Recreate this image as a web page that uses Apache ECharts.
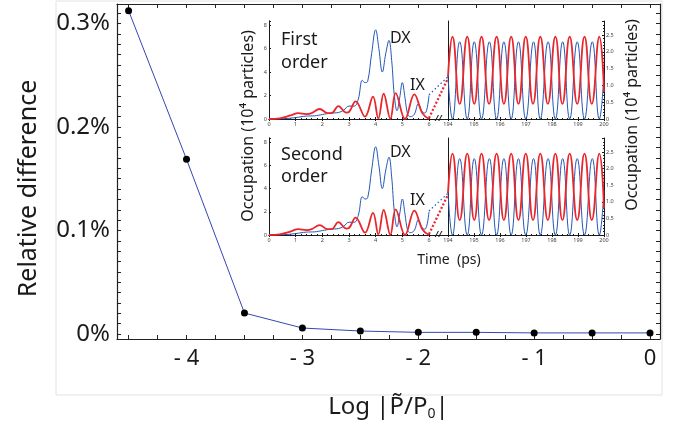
<!DOCTYPE html>
<html><head><meta charset="utf-8">
<script src="https://cdn.jsdelivr.net/npm/echarts@6/dist/echarts.min.js"></script>
<style>html,body{margin:0;padding:0;background:#fff}#c{width:688px;height:423px}</style>
</head><body><div id="c"></div>
<script>
// ---- main chart data ----
const logP = [-4.5, -4, -3.5, -3, -2.5, -2, -1.5, -1, -0.5, 0];
const relDiff = [0.3124, 0.1688, 0.0203, 0.0058, 0.0029, 0.0016, 0.0016, 0.0011, 0.0011, 0.0011]; // in %
const xTickLabels = [-4, -3, -2, -1, 0];
const yTickLabels = [0, 0.1, 0.2, 0.3];
// ---- inset: early time (0-6 ps), 10^4 particles ----
const dxEarly = [[0,0],[0.5,0.02],[1.0,0.12],[1.4,0.25],[1.7,0.27],[2.0,0.38],[2.3,0.5],[2.6,0.55],[2.8,0.75],[3.0,1.1],[3.2,1.1],[3.35,1.7],[3.5,3.3],[3.6,3.1],[3.7,3.2],[3.85,5.6],[4.0,7.6],[4.12,6.0],[4.25,4.0],[4.38,5.6],[4.5,6.7],[4.6,5.0],[4.7,2.0],[4.8,0.7],[4.9,1.8],[5.0,3.1],[5.1,1.8],[5.2,0.4],[5.3,0.2],[5.45,0.4],[5.6,1.3],[5.75,0.6],[5.85,0.5],[6.0,2.0]];
const ixEarly = [[0,0],[0.4,0.05],[0.8,0.3],[1.1,0.5],[1.4,0.42],[1.6,0.5],[1.9,0.85],[2.2,0.5],[2.35,0.5],[2.6,1.1],[2.9,0.55],[3.0,0.6],[3.25,1.5],[3.6,0.2],[3.9,1.9],[4.1,0.05],[4.3,2.15],[4.55,0.02],[4.75,2.2],[5.1,0.0],[5.45,2.1],[5.75,0.5],[6.0,0.0]];
// ---- inset: late time (194-200 ps) ----
const ixLate = [[194.0,1.26],[194.17,2.45],[194.45,0.45],[194.74,2.45],[195.01,0.45],[195.29,2.45],[195.58,0.45],[195.87,2.45],[196.15,0.45],[196.43,2.45],[196.71,0.45],[196.99,2.45],[197.27,0.45],[197.55,2.45],[197.84,0.45],[198.13,2.45],[198.4,0.45],[198.68,2.45],[198.97,0.45],[199.25,2.45],[199.53,0.45],[199.82,2.45],[200.0,0.8]];
const dxLate = [[194.0,1.3],[194.17,0.0],[194.45,2.3],[194.74,0.0],[195.01,2.3],[195.29,0.0],[195.59,2.3],[195.87,0.0],[196.15,2.3],[196.43,0.0],[196.71,2.3],[196.99,0.0],[197.29,2.3],[197.55,0.0],[197.85,2.3],[198.13,0.0],[198.41,2.3],[198.68,0.0],[198.97,2.3],[199.25,0.0],[199.55,2.3],[199.82,0.0],[200.0,1.35]];
// dotted connectors across the axis break (left-panel units)
const dxGap = [[6, 2.06], [194, 3.6]];
const ixGap = [[6, 0.08], [194, 3.48]];

const FONT = '"Noto Sans", "DejaVu Sans", sans-serif';
const BLUE = '#2457b5', RED = '#e8262b', INK = '#1a1a1a';

function range(a, b, s) { const r = []; for (let i = 0; ; i++) { const v = +(a + i * s).toFixed(4); if (v > b + 1e-9) break; r.push(v); } return r; }

const grids = [
  { left: 117, right: 28, top: 4, bottom: 84 },              // 0 main
  { left: 269, width: 160, top: 21, height: 98 },             // 1 TL
  { left: 429, width: 19, top: 21, height: 98 },              // 2 gap top
  { left: 448, width: 156, top: 21, height: 98 },             // 3 TR
  { left: 269, width: 160, top: 138, height: 97 },            // 4 BL
  { left: 429, width: 19, top: 138, height: 97 },             // 5 gap bottom
  { left: 448, width: 156, top: 138, height: 97 }             // 6 BR
];

const line1 = { show: true, lineStyle: { color: INK, width: 1 } };
const xAxes = [], yAxes = [];
xAxes.push({ gridIndex: 0, type: 'value', min: -4.6, max: 0.086, position: 'bottom',
  axisLine: { show: true, onZero: false, lineStyle: { color: '#222', width: 1.2 } },
  axisTick: { show: true, inside: true, length: 4, customValues: range(-4.5, 0, 0.25), lineStyle: { color: '#222' } },
  axisLabel: { customValues: xTickLabels, fontFamily: FONT, fontSize: 22, color: INK, margin: 9,
    formatter: v => v < 0 ? '- ' + Math.abs(v) : String(v) },
  splitLine: { show: false },
  name: 'Log |P\u0303/P{s|0}|', nameLocation: 'middle', nameGap: 54,
  nameTextStyle: { fontFamily: FONT, fontSize: 24, color: INK, rich: { s: { fontFamily: FONT, fontSize: 14, color: INK, padding: [14, 0, 0, 0] } } } });
xAxes.push({ gridIndex: 0, type: 'value', min: -4.6, max: 0.086, position: 'top',
  axisLine: { show: true, onZero: false, lineStyle: { color: '#222', width: 1.2 } },
  axisTick: { show: true, inside: true, length: 4, customValues: range(-4.5, 0, 0.25), lineStyle: { color: '#222' } },
  axisLabel: { show: false }, splitLine: { show: false } });
yAxes.push({ gridIndex: 0, type: 'value', min: -0.0048, max: 0.3188, position: 'left',
  axisLine: { show: true, onZero: false, lineStyle: { color: '#222', width: 1.2 } },
  axisTick: { show: true, inside: true, length: 4, customValues: range(0, 0.31, 0.01), lineStyle: { color: '#222' } },
  axisLabel: { customValues: yTickLabels, fontFamily: FONT, fontSize: 24, color: INK, margin: 7,
    formatter: v => (v === 0 ? '0' : v.toFixed(1)) + '%' },
  splitLine: { show: false },
  name: 'Relative difference', nameLocation: 'middle', nameGap: 76,
  nameTextStyle: { fontFamily: FONT, fontSize: 25, color: INK, padding: [0, 34, 0, 0] } });
yAxes.push({ gridIndex: 0, type: 'value', min: -0.0048, max: 0.3188, position: 'right',
  axisLine: { show: true, onZero: false, lineStyle: { color: '#222', width: 1.2 } },
  axisTick: { show: true, inside: true, length: 4, customValues: range(0, 0.31, 0.01), lineStyle: { color: '#222' } },
  axisLabel: { show: false }, splitLine: { show: false } });

const tinyLab = { fontFamily: FONT, fontSize: 5.5, color: '#444', margin: 2 };
function panelAxes(gEarly, gGap, gLate) {
  xAxes.push({ gridIndex: gEarly, type: 'value', min: 0, max: 6, interval: 1, position: 'bottom',
    axisLine: line1, axisTick: { inside: true, length: 2, lineStyle: { color: INK } },
    minorTick: { show: true, splitNumber: 5, length: 1, lineStyle: { color: INK } },
    axisLabel: tinyLab, splitLine: { show: false } });
  xAxes.push({ gridIndex: gEarly, type: 'value', min: 0, max: 6, interval: 1, position: 'top',
    axisLine: line1, axisTick: { inside: true, length: 2, lineStyle: { color: INK } },
    minorTick: { show: true, splitNumber: 5, length: 1, lineStyle: { color: INK } },
    axisLabel: { show: false }, splitLine: { show: false } });
  yAxes.push({ gridIndex: gEarly, type: 'value', min: 0, max: 8.35, interval: 2, position: 'left',
    axisLine: line1, axisTick: { inside: true, length: 2, lineStyle: { color: INK } },
    minorTick: { show: true, splitNumber: 2, length: 1, lineStyle: { color: INK } },
    axisLabel: Object.assign({ showMaxLabel: false }, tinyLab), splitLine: { show: false } });
  yAxes.push({ gridIndex: gEarly, type: 'value', min: 0, max: 8.35, position: 'right',
    axisLine: line1, axisTick: { show: false }, axisLabel: { show: false }, splitLine: { show: false } });
  xAxes.push({ gridIndex: gGap, type: 'value', min: 6, max: 194, position: 'top',
    axisLine: line1, axisTick: { show: false }, axisLabel: { show: false }, splitLine: { show: false } });
  yAxes.push({ gridIndex: gGap, type: 'value', min: 0, max: 8.35, show: false });
  xAxes.push({ gridIndex: gLate, type: 'value', min: 194, max: 200, interval: 1, position: 'bottom',
    axisLine: line1, axisTick: { inside: true, length: 2, lineStyle: { color: INK } },
    minorTick: { show: true, splitNumber: 5, length: 1, lineStyle: { color: INK } },
    axisLabel: tinyLab, splitLine: { show: false } });
  xAxes.push({ gridIndex: gLate, type: 'value', min: 194, max: 200, interval: 1, position: 'top',
    axisLine: line1, axisTick: { inside: true, length: 2, lineStyle: { color: INK } },
    minorTick: { show: true, splitNumber: 5, length: 1, lineStyle: { color: INK } },
    axisLabel: { show: false }, splitLine: { show: false } });
  yAxes.push({ gridIndex: gLate, type: 'value', min: 0, max: 2.92, position: 'left',
    axisLine: line1, axisTick: { show: false }, axisLabel: { show: false }, splitLine: { show: false } });
  yAxes.push({ gridIndex: gLate, type: 'value', min: 0, max: 2.92, interval: 0.5, position: 'right',
    axisLine: line1, axisTick: { inside: true, length: 2, lineStyle: { color: INK } },
    minorTick: { show: true, splitNumber: 5, length: 1, lineStyle: { color: INK } },
    axisLabel: Object.assign({ showMaxLabel: false, formatter: v => v === 0 ? '0' : v.toFixed(1) }, tinyLab),
    splitLine: { show: false } });
}
panelAxes(1, 2, 3);
panelAxes(4, 5, 6);

const series = [{
  type: 'line', xAxisIndex: 0, yAxisIndex: 0, data: logP.map((x, i) => [x, relDiff[i]]),
  symbol: 'circle', symbolSize: 7, itemStyle: { color: '#000' },
  lineStyle: { color: '#3447b0', width: 1 }, z: 3
}];
function panelSeries(xe, ye, xg, yg, xl, yl) {
  series.push({ type: 'line', xAxisIndex: xe, yAxisIndex: ye, data: dxEarly, showSymbol: false, smooth: 0.4,
    lineStyle: { color: BLUE, width: 1 } });
  series.push({ type: 'line', xAxisIndex: xe, yAxisIndex: ye, data: ixEarly, showSymbol: false, smooth: 0.4,
    lineStyle: { color: RED, width: 1.8 } });
  series.push({ type: 'line', xAxisIndex: xg, yAxisIndex: yg, data: dxGap, showSymbol: false,
    lineStyle: { color: BLUE, width: 1.2, type: [1.5, 2.5] } });
  series.push({ type: 'line', xAxisIndex: xg, yAxisIndex: yg, data: ixGap, showSymbol: false,
    lineStyle: { color: RED, width: 2.2, type: [2, 2] } });
  series.push({ type: 'line', xAxisIndex: xl, yAxisIndex: yl, data: dxLate, showSymbol: false, smooth: 0.5,
    lineStyle: { color: BLUE, width: 1 } });
  series.push({ type: 'line', xAxisIndex: xl, yAxisIndex: yl, data: ixLate, showSymbol: false, smooth: 0.5,
    lineStyle: { color: RED, width: 1.8 } });
}
panelSeries(2, 2, 4, 4, 5, 6);
panelSeries(7, 7, 9, 9, 10, 11);

const txt = (x, y, s, size, extra) => ({ type: 'text', x, y, z: 50,
  style: Object.assign({ text: s, fontFamily: FONT, fontSize: size, fill: INK }, extra || {}) });

const option = {
  animation: false,
  backgroundColor: '#fff',
  grid: grids.map(g => Object.assign({ containLabel: false, outerBoundsMode: 'none' }, g)),
  xAxis: xAxes, yAxis: yAxes, series,
  graphic: [
    { type: 'rect', shape: { x: 56, y: 1, width: 606, height: 394 }, z: -10,
      style: { fill: 'none', stroke: '#e2e2e2', lineWidth: 1 } },
    txt(281, 31, 'First', 18), txt(281, 54, 'order', 18),
    txt(390, 30, 'DX', 16), txt(410, 77, 'IX', 16),
    txt(281, 146, 'Second', 18), txt(281, 168, 'order', 18),
    txt(390, 144, 'DX', 16), txt(410, 192, 'IX', 16),
    txt(435, 115, '//', 8, { fontWeight: 'bold', fontStyle: 'italic' }),
    txt(435, 231, '//', 8, { fontWeight: 'bold', fontStyle: 'italic' }),
    txt(449, 260, 'Time  (ps)', 14, { align: 'center', verticalAlign: 'middle' }),
    { type: 'text', x: 248, y: 126, rotation: Math.PI / 2, z: 50,
      style: { text: 'Occupation (10\u2074 particles)', fontFamily: FONT, fontSize: 16, fill: INK, align: 'center', verticalAlign: 'middle' } },
    { type: 'text', x: 632, y: 115, rotation: Math.PI / 2, z: 50,
      style: { text: 'Occupation (10\u2074 particles)', fontFamily: FONT, fontSize: 16, fill: INK, align: 'center', verticalAlign: 'middle' } }
  ]
};
const chart = echarts.init(document.getElementById('c'), null, { renderer: 'canvas' });
chart.setOption(option);
</script></body></html>
